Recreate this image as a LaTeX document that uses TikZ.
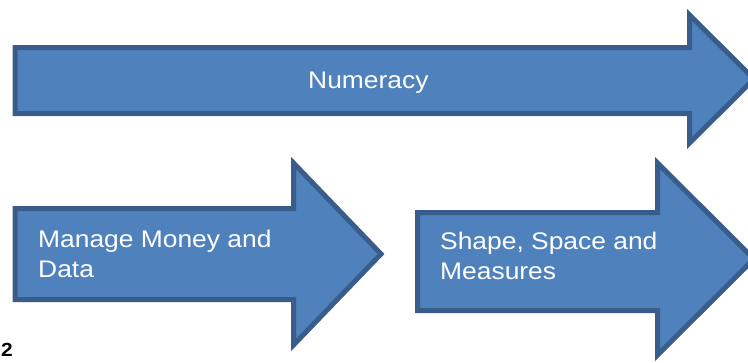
\documentclass[tikz,border=0pt]{standalone}
\usepackage{fontspec}
\setmainfont{Liberation Sans}[FakeStretch=1.1]
\definecolor{arrowfill}{HTML}{4F81BD}
\definecolor{arrowline}{HTML}{385D8A}
\begin{document}
\begin{tikzpicture}[x=1pt,y=-1pt,
  blockarrow/.style={fill=arrowfill,draw=arrowline,line width=5pt,line join=miter},
  label/.style={text=white,inner sep=0pt,align=left,anchor=base west,
    font=\fontsize{24}{30.5}\selectfont}]
\useasboundingbox (0,0) rectangle (748,362);
% long arrow across the top
\draw[blockarrow] (15,47.5) -- (689.5,47.5) -- (689.5,15) -- (754,79)
  -- (689.5,143) -- (689.5,113.5) -- (15,113.5) -- cycle;
% lower left arrow
\draw[blockarrow] (15,208.5) -- (293.5,208.5) -- (293.5,163) -- (381,254)
  -- (293.5,345) -- (293.5,299.5) -- (15,299.5) -- cycle;
% lower right arrow
\draw[blockarrow] (417.5,212.5) -- (657.5,212.5) -- (657.5,163) -- (754,259)
  -- (657.5,355) -- (657.5,310.5) -- (417.5,310.5) -- cycle;
% labels; the base anchor of a two-line label sits on its last line
\node[label] (numeracy) at (308,88) {Numeracy};
\node[label] (money) at (38,277.5) {Manage Money and\\Data};
\node[label] (shape) at (440,279.5) {Shape, Space and\\Measures};
\node[inner sep=0pt,anchor=north west,font=\fontsize{19}{23}\selectfont\bfseries] (pagenum) at (1,343.5) {2};
\end{tikzpicture}
\end{document}
